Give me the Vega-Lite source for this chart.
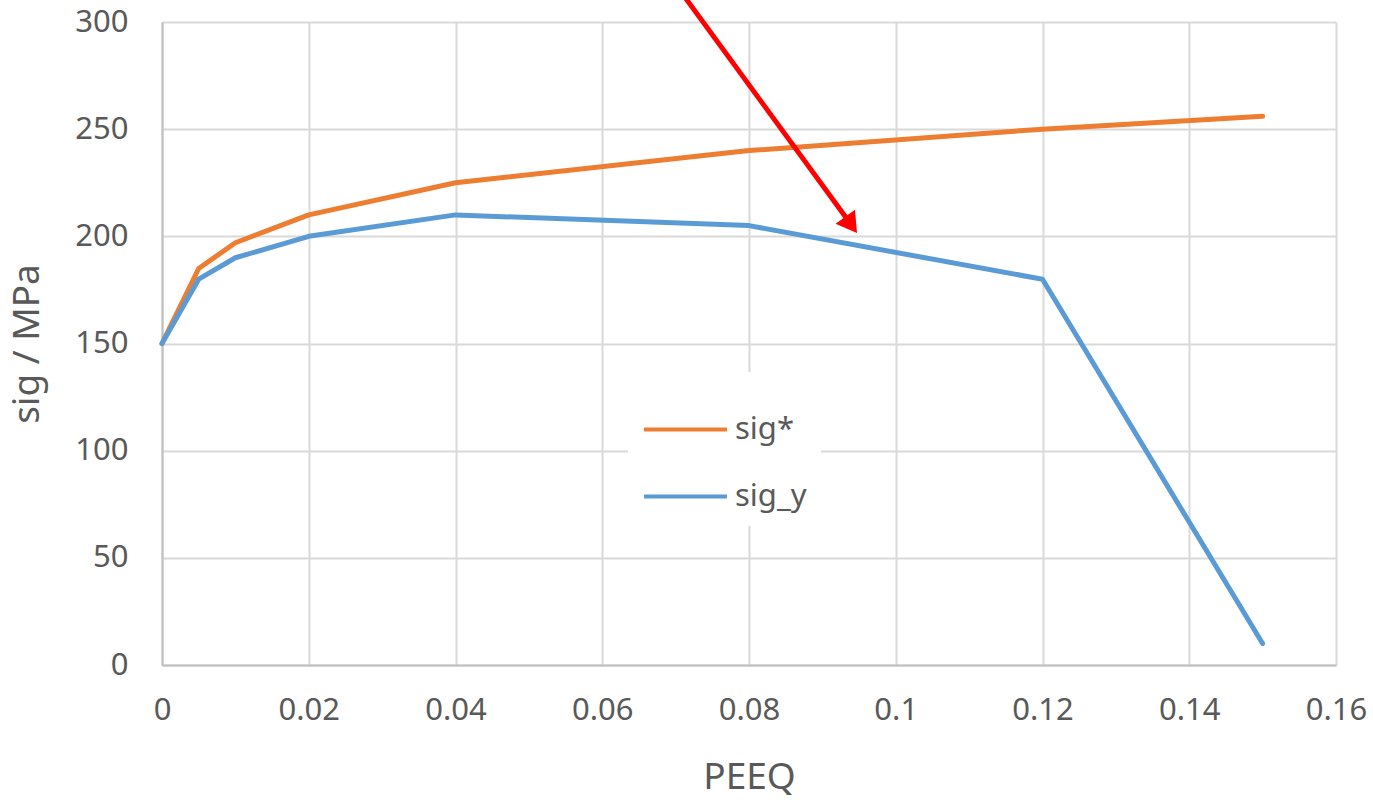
{
  "$schema": "https://vega.github.io/schema/vega-lite/v6.json",
  "width": 1174,
  "height": 643,
  "autosize": {"type": "none"},
  "padding": {"left": 162, "top": 22, "right": 37, "bottom": 135},
  "background": "white",
  "config": {
    "view": {"stroke": null},
    "font": "Noto Sans",
    "axis": {
      "labelFont": "Noto Sans",
      "titleFont": "Noto Sans",
      "labelColor": "#595959",
      "titleColor": "#595959",
      "labelFontSize": 31,
      "titleFontSize": 37,
      "titleFontWeight": "normal",
      "gridColor": "#d9d9d9",
      "gridWidth": 2,
      "ticks": false,
      "domainColor": "#bfbfbf",
      "domainWidth": 2
    }
  },
  "datasets": {
    "curves": [
      {"peeq": 0, "sig": 150, "series": "sig*"},
      {"peeq": 0.005, "sig": 185, "series": "sig*"},
      {"peeq": 0.01, "sig": 197, "series": "sig*"},
      {"peeq": 0.02, "sig": 210, "series": "sig*"},
      {"peeq": 0.04, "sig": 225, "series": "sig*"},
      {"peeq": 0.08, "sig": 240, "series": "sig*"},
      {"peeq": 0.12, "sig": 250, "series": "sig*"},
      {"peeq": 0.15, "sig": 256, "series": "sig*"},
      {"peeq": 0, "sig": 150, "series": "sig_y"},
      {"peeq": 0.005, "sig": 180, "series": "sig_y"},
      {"peeq": 0.01, "sig": 190, "series": "sig_y"},
      {"peeq": 0.02, "sig": 200, "series": "sig_y"},
      {"peeq": 0.04, "sig": 210, "series": "sig_y"},
      {"peeq": 0.08, "sig": 205, "series": "sig_y"},
      {"peeq": 0.12, "sig": 180, "series": "sig_y"},
      {"peeq": 0.15, "sig": 10, "series": "sig_y"}
    ],
    "arrow": [
      {"x": 0.07053, "y": 315, "x2": 0.09354, "y2": 207.3, "tx": 0.09472, "ty": 201.6}
    ]
  },
  "layer": [
    {
      "data": {"name": "curves"},
      "mark": {"type": "line", "strokeWidth": 5, "strokeCap": "round", "strokeJoin": "round"},
      "encoding": {
        "x": {
          "field": "peeq", "type": "quantitative",
          "scale": {"domain": [0, 0.16], "nice": false, "zero": false},
          "axis": {"title": "PEEQ", "values": [0, 0.02, 0.04, 0.06, 0.08, 0.1, 0.12, 0.14, 0.16], "labelPadding": 30, "titlePadding": 34, "format": "~g", "labelFlush": false}
        },
        "y": {
          "field": "sig", "type": "quantitative",
          "scale": {"domain": [0, 300], "nice": false},
          "axis": {"title": "sig / MPa", "values": [0, 50, 100, 150, 200, 250, 300], "labelPadding": 34, "titlePadding": 28}
        },
        "color": {
          "field": "series", "type": "nominal",
          "scale": {"domain": ["sig*", "sig_y"], "range": ["#ED7D31", "#5B9BD5"]},
          "legend": {
            "title": null,
            "orient": "none",
            "legendX": 466,
            "legendY": 350,
            "symbolType": "stroke",
            "symbolSize": 6889,
            "symbolStrokeWidth": 4,
            "labelFontSize": 31,
            "labelFont": "Noto Sans",
            "labelColor": "#595959",
            "labelOffset": 6,
            "rowPadding": 8,
            "fillColor": "white",
            "padding": 14
          }
        }
      }
    },
    {
      "data": {"name": "arrow"},
      "mark": {"type": "rule", "color": "#ff0000", "strokeWidth": 5},
      "encoding": {
        "x": {"field": "x", "type": "quantitative"},
        "y": {"field": "y", "type": "quantitative"},
        "x2": {"field": "x2"},
        "y2": {"field": "y2"}
      }
    },
    {
      "data": {"name": "arrow"},
      "mark": {"type": "point", "shape": "M0,0 L-0.6,-1 L0.6,-1 Z", "filled": true, "color": "#ff0000", "opacity": 1, "size": 1600, "angle": 324},
      "encoding": {
        "x": {"field": "tx", "type": "quantitative"},
        "y": {"field": "ty", "type": "quantitative"}
      }
    }
  ]
}
